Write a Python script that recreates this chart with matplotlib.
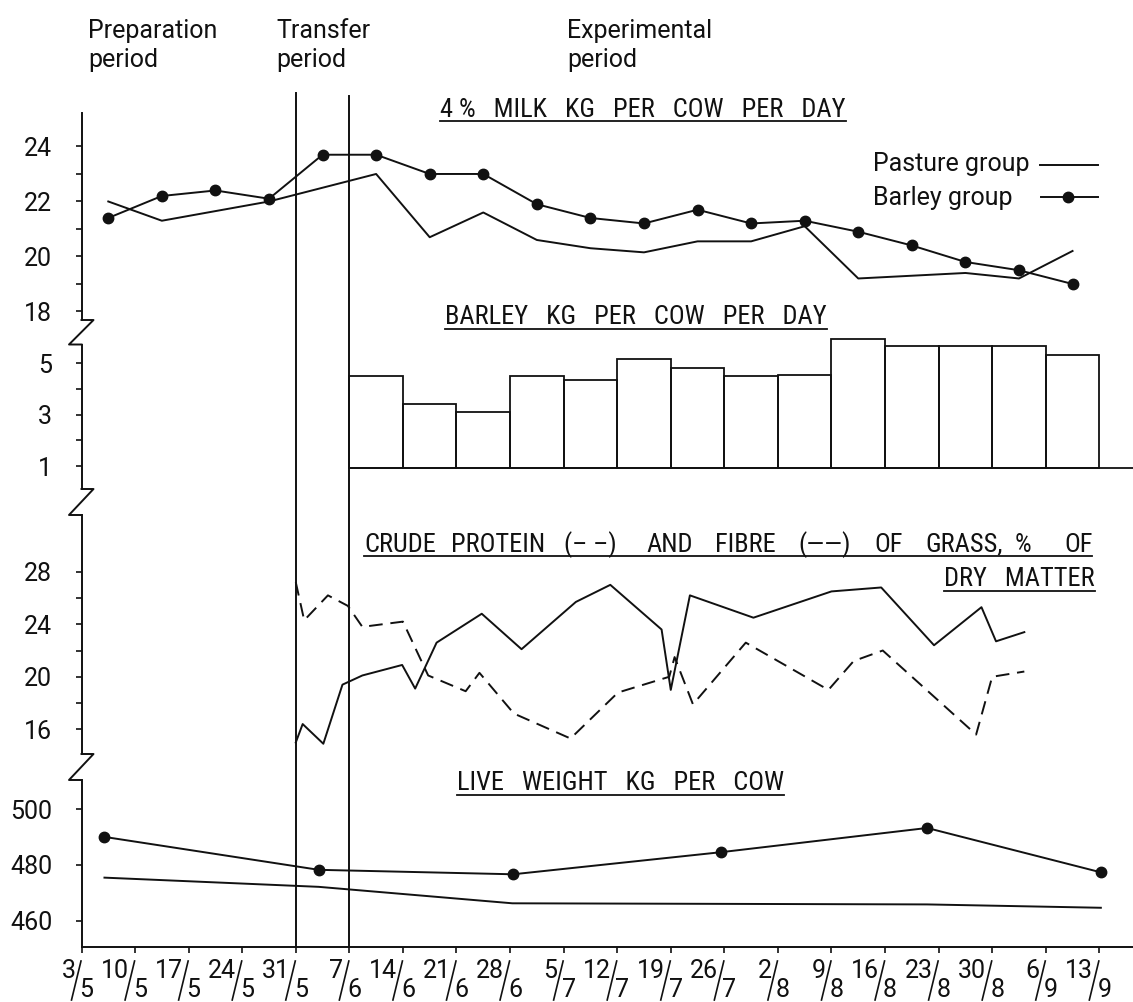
import matplotlib
matplotlib.use("Agg")
import matplotlib.pyplot as plt
import matplotlib.transforms as mtransforms
from matplotlib.lines import Line2D

plt.rcParams["font.family"] = ["Roboto", "DejaVu Sans"]
plt.rcParams["font.size"] = 18
TITLE_FONT = ["Roboto Condensed", "Roboto", "DejaVu Sans"]

# ---------------------------------------------------------------- data
# time axis: days after 3 May
tick_days = [0, 7, 14, 21, 28, 35, 42, 49, 56, 63, 70, 77, 84, 91, 98,
             105, 112, 119, 126, 133]
tick_labels = [("3", "5"), ("10", "5"), ("17", "5"), ("24", "5"), ("31", "5"),
               ("7", "6"), ("14", "6"), ("21", "6"), ("28", "6"), ("5", "7"),
               ("12", "7"), ("19", "7"), ("26", "7"), ("2", "8"), ("9", "8"),
               ("16", "8"), ("23", "8"), ("30", "8"), ("6", "9"), ("13", "9")]

# period boundaries (31/5 and 7/6)
transfer_start = 28
transfer_end = 35

# 4 % milk, kg per cow per day
milk_barley_days = [3.5, 10.5, 17.5, 24.5, 31.5, 38.5, 45.5, 52.5, 59.5, 66.5,
                    73.5, 80.5, 87.5, 94.5, 101.5, 108.5, 115.5, 122.5, 129.5]
milk_barley = [21.4, 22.2, 22.4, 22.1, 23.7, 23.7, 23.0, 23.0, 21.9, 21.4,
               21.2, 21.7, 21.2, 21.3, 20.9, 20.4, 19.8, 19.5, 19.0]
milk_pasture_days = [3.5, 10.5, 24.5, 38.5, 45.5, 52.5, 59.5, 66.5, 73.5,
                     80.5, 87.5, 94.5, 101.5, 115.5, 122.5, 129.5]
milk_pasture = [22.0, 21.3, 22.0, 23.0, 20.7, 21.6, 20.6, 20.3, 20.15,
                20.55, 20.55, 21.1, 19.2, 19.4, 19.2, 20.2]

# barley fed, kg per cow per day (one bar per week from 7/6)
barley_week_start = [35, 42, 49, 56, 63, 70, 77, 84, 91, 98, 105, 112, 119, 126]
barley_kg = [4.5, 3.4, 3.1, 4.5, 4.35, 5.15, 4.8, 4.5, 4.55, 5.95,
             5.65, 5.65, 5.65, 5.3]
barley_base = 0.94

# crude protein and fibre of grass, % of dry matter
protein_days = [28.0, 29.1, 32.2, 34.8, 36.7, 42.0, 45.3, 50.2, 52.0, 56.5,
                63.9, 70.1, 76.8, 77.5, 79.9, 86.8, 97.6, 100.9, 104.7,
                116.9, 119.0, 123.2]
protein = [27.2, 24.3, 26.2, 25.4, 23.8, 24.2, 20.1, 18.9, 20.3, 17.2,
           15.3, 18.8, 20.0, 21.5, 17.9, 22.6, 19.0, 21.2, 22.0,
           15.6, 20.0, 20.4]
fibre_days = [28.0, 28.9, 31.6, 34.1, 36.7, 41.9, 43.6, 46.4, 52.3, 57.5,
              64.6, 69.1, 75.8, 77.0, 79.5, 87.8, 98.0, 104.5, 111.4,
              117.6, 119.5, 123.2]
fibre = [15.0, 16.4, 14.9, 19.4, 20.1, 20.9, 19.1, 22.6, 24.8, 22.1,
         25.7, 27.0, 23.6, 19.0, 26.2, 24.5, 26.5, 26.8, 22.4,
         25.3, 22.7, 23.4]

# live weight, kg per cow
lw_barley_days = [3.0, 31.0, 56.4, 83.5, 110.5, 133.2]
lw_barley = [490.0, 478.2, 476.6, 484.5, 493.2, 477.3]
lw_pasture_days = [3.0, 31.0, 56.3, 110.5, 133.2]
lw_pasture = [475.4, 472.1, 466.2, 465.8, 464.6]

# ---------------------------------------------------------------- layout
W, H = 1133, 1002
fig = plt.figure(figsize=(W / 100, H / 100), dpi=100)
fig.patch.set_facecolor("white")

X_AXIS = 81.5          # pixel column of the vertical axis
DAY_MAX = 137.4
X_BOTTOM = 947.3       # pixel row of the time axis
INK = "#111111"
LW = 1.4
FS = 18


def fx(px):
    return px / W


def fy(px):
    return 1 - px / H


def panel(top, bottom, ylim, spine_top, major, minor):
    ax = fig.add_axes([fx(X_AXIS), fy(bottom), fx(W - X_AXIS), (bottom - top) / H])
    ax.set_xlim(0, DAY_MAX)
    ax.set_ylim(*ylim)
    ax.patch.set_visible(False)
    for side in ("top", "right", "bottom"):
        ax.spines[side].set_visible(False)
    ax.spines["left"].set_linewidth(LW)
    ax.spines["left"].set_color(INK)
    ax.spines["left"].set_bounds(ylim[0], spine_top)
    ax.set_xticks([])
    ax.set_yticks(major)
    ax.set_yticks(minor, minor=True)
    ax.tick_params(axis="y", which="both", direction="out", length=4,
                   width=1.2, pad=17, labelsize=FS, colors=INK)
    return ax


ax_milk = panel(100, 320, (17.69, 25.69), 25.22, [18, 20, 22, 24], [19, 21, 23])
ax_bar = panel(330, 489, (0.11, 6.29), 5.71, [1, 3, 5], [2, 4])
ax_cp = panel(505, 754, (14.12, 33.08), 32.32, [16, 20, 24, 28], [18, 22, 26])
ax_lw = panel(770, X_BOTTOM, (450.43, 513.98), 510.39, [460, 480, 500], [])

# time axis
ax_lw.spines["bottom"].set_visible(True)
ax_lw.spines["bottom"].set_linewidth(LW)
ax_lw.spines["bottom"].set_color(INK)
ax_lw.set_xticks(tick_days)
ax_lw.set_xticklabels([""] * len(tick_days))
ax_lw.tick_params(axis="x", direction="out", length=4.5, width=1.2, colors=INK)

# fraction-style date labels (day / month)
ppd = (W - X_AXIS) / DAY_MAX
tx = mtransforms.blended_transform_factory(ax_lw.transData, fig.transFigure)
for d, (num, den) in zip(tick_days, tick_labels):
    ax_lw.text(d - 6 / ppd, fy(978), num, transform=tx, ha="right",
               va="baseline", fontsize=FS, color=INK, clip_on=False)
    ax_lw.text(d - 2 / ppd, fy(997), den, transform=tx, ha="left",
               va="baseline", fontsize=FS, color=INK, clip_on=False)
    ax_lw.add_line(Line2D([d - 0.5 / ppd, d - 10 / ppd], [fy(961), fy(1000)],
                          transform=tx, color=INK, lw=1.2, clip_on=False))

# ---------------------------------------------------------------- marks
# milk
ax_milk.plot(milk_pasture_days, milk_pasture, color=INK, lw=LW)
ax_milk.plot(milk_barley_days, milk_barley, color=INK, lw=LW,
             marker="o", ms=7.5)

# barley bars
ax_bar.bar(barley_week_start, [v - barley_base for v in barley_kg], width=7,
           bottom=barley_base, align="edge", fill=False, edgecolor=INK,
           linewidth=1.3, clip_on=False)
ax_bar.hlines(barley_base, barley_week_start[0], DAY_MAX, color=INK, lw=1.3)

# protein (dashed) and fibre (solid)
ax_cp.plot(protein_days, protein, color=INK, lw=LW, dashes=(7, 4))
ax_cp.plot(fibre_days, fibre, color=INK, lw=LW)

# live weight
ax_lw.plot(lw_pasture_days, lw_pasture, color=INK, lw=LW)
ax_lw.plot(lw_barley_days, lw_barley, color=INK, lw=LW, marker="o", ms=7.5)

# period boundaries across all panels
ax_ov = fig.add_axes([fx(X_AXIS), fy(X_BOTTOM), fx(W - X_AXIS), X_BOTTOM / H])
ax_ov.set_xlim(0, DAY_MAX)
ax_ov.set_ylim(0, 1)
ax_ov.axis("off")
ax_ov.axvline(transfer_start, ymin=0, ymax=1 - 93 / X_BOTTOM, color=INK, lw=1.4)
ax_ov.axvline(transfer_end, ymin=0, ymax=1 - 96 / X_BOTTOM, color=INK, lw=1.4)

# axis breaks
for y1, y2 in [(320, 344.5), (489, 515), (754, 780)]:
    fig.add_artist(Line2D([fx(X_AXIS), fx(X_AXIS + 12), fx(X_AXIS - 12.5), fx(X_AXIS)],
                          [fy(y1), fy(y1), fy(y2), fy(y2)],
                          color=INK, lw=LW, transform=fig.transFigure))

# ---------------------------------------------------------------- text
for x, first, second in [(88, "Preparation", "period"),
                         (276, "Transfer", "period"),
                         (567, "Experimental", "period")]:
    fig.text(fx(x), fy(38), first, ha="left", va="baseline", fontsize=FS, color=INK)
    fig.text(fx(x), fy(67), second, ha="left", va="baseline", fontsize=FS, color=INK)


def underline(x0, x1, yb):
    fig.add_artist(Line2D([fx(x0), fx(x1)], [fy(yb + 4.5), fy(yb + 4.5)],
                          color=INK, lw=1.3, transform=fig.transFigure))


titles = [
    (440, 116.7, "4 %   MILK   KG   PER   COW   PER   DAY", "left"),
    (445, 324, "BARLEY   KG   PER   COW   PER   DAY", "left"),
    (1095, 586, "DRY   MATTER", "right"),
    (457, 790, "LIVE   WEIGHT   KG   PER   COW", "left"),
]
title_artists = []
for x, yb, s, ha in titles:
    t = fig.text(fx(x), fy(yb), s, ha=ha, va="baseline", fontsize=19,
                 family=TITLE_FONT, color=INK)
    title_artists.append((t, yb))

# the long grass heading is set word by word with wide spacing
grass_words = [(364, "CRUDE"), (451, "PROTEIN"), (564, "(– –)"), (646, "AND"),
               (715, "FIBRE"), (798, "(——)"), (874, "OF"), (925, "GRASS,"),
               (1015, "%"), (1064, "OF")]
grass_artists = []
for x, w in grass_words:
    grass_artists.append(fig.text(fx(x), fy(551.7), w, ha="left", va="baseline",
                                  fontsize=19, family=TITLE_FONT, color=INK))

fig.canvas.draw()
renderer = fig.canvas.get_renderer()
for t, yb in title_artists:
    bb = t.get_window_extent(renderer)
    underline(bb.x0, bb.x1, yb)
underline(grass_artists[0].get_window_extent(renderer).x0,
          grass_artists[-1].get_window_extent(renderer).x1, 551.7)

# legend
fig.text(fx(873), fy(171.5), "Pasture group", ha="left", va="baseline",
         fontsize=FS, color=INK)
fig.text(fx(873), fy(205), "Barley group", ha="left", va="baseline",
         fontsize=FS, color=INK)
fig.add_artist(Line2D([fx(1040), fx(1098)], [fy(165), fy(165)], color=INK,
                      lw=LW, transform=fig.transFigure))
fig.add_artist(Line2D([fx(1041), fx(1098)], [fy(197.3), fy(197.3)], color=INK,
                      lw=LW, transform=fig.transFigure))
fig.add_artist(Line2D([fx(1068)], [fy(197.3)], color=INK, marker="o", ms=7.5,
                      transform=fig.transFigure))

fig.savefig("out.png", dpi=100, facecolor="white")
